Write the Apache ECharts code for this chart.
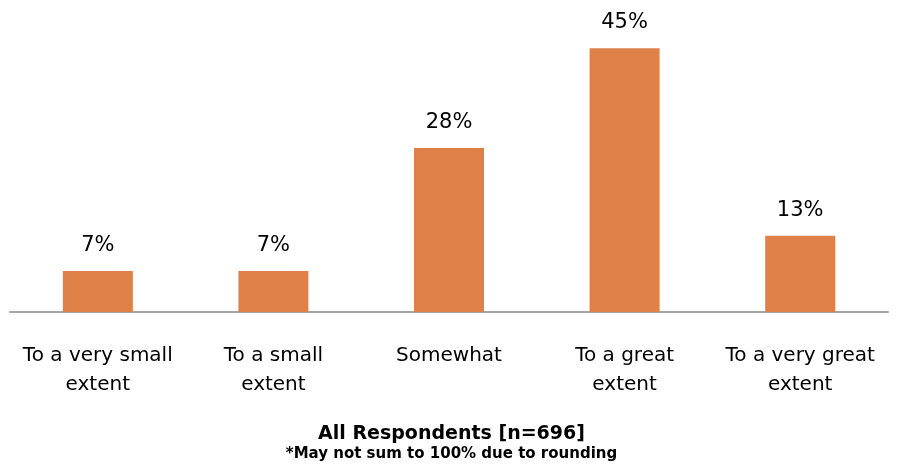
<!DOCTYPE html>
<html><head><meta charset="utf-8">
<script src="https://cdn.jsdelivr.net/npm/echarts@6/dist/echarts.min.js"></script>
<style>html,body{margin:0;padding:0;background:#fff}#c{width:903px;height:466px}</style>
</head><body><div id="c"></div>
<script>
var categories = ["To a very small\nextent", "To a small\nextent", "Somewhat", "To a great\nextent", "To a very great\nextent"];
var values = [7, 7, 28, 45, 13];
var titleText = "All Respondents [n=696]";
var subtitleText = "*May not sum to 100% due to rounding";
var FONT = "'DejaVu Sans', sans-serif";
var chart = echarts.init(document.getElementById('c'), null, {renderer: 'canvas'});
chart.setOption({
  animation: false,
  title: {
    text: titleText, subtext: subtitleText, left: 'center', top: 420, itemGap: 3,
    textStyle: {fontFamily: FONT, fontWeight: 'bold', fontSize: 19, color: '#000'},
    subtextStyle: {fontFamily: FONT, fontWeight: 'bold', fontSize: 15, color: '#000'}
  },
  grid: {left: 10, right: 15, top: 19, bottom: 154},
  xAxis: {
    type: 'category', data: categories,
    axisLine: {lineStyle: {color: '#A6A6A6', width: 2}},
    axisTick: {show: false},
    axisLabel: {fontFamily: FONT, fontSize: 20, color: '#000', margin: 29, lineHeight: 29, interval: 0}
  },
  yAxis: {type: 'value', min: 0, max: 50, show: false, splitLine: {show: false}},
  series: [{
    type: 'bar', data: values, barWidth: 70,
    itemStyle: {color: '#DE8048'},
    label: {show: true, position: 'top', distance: 15, formatter: '{c}%', fontFamily: FONT, fontSize: 21, color: '#000'}
  }]
});
</script></body></html>
